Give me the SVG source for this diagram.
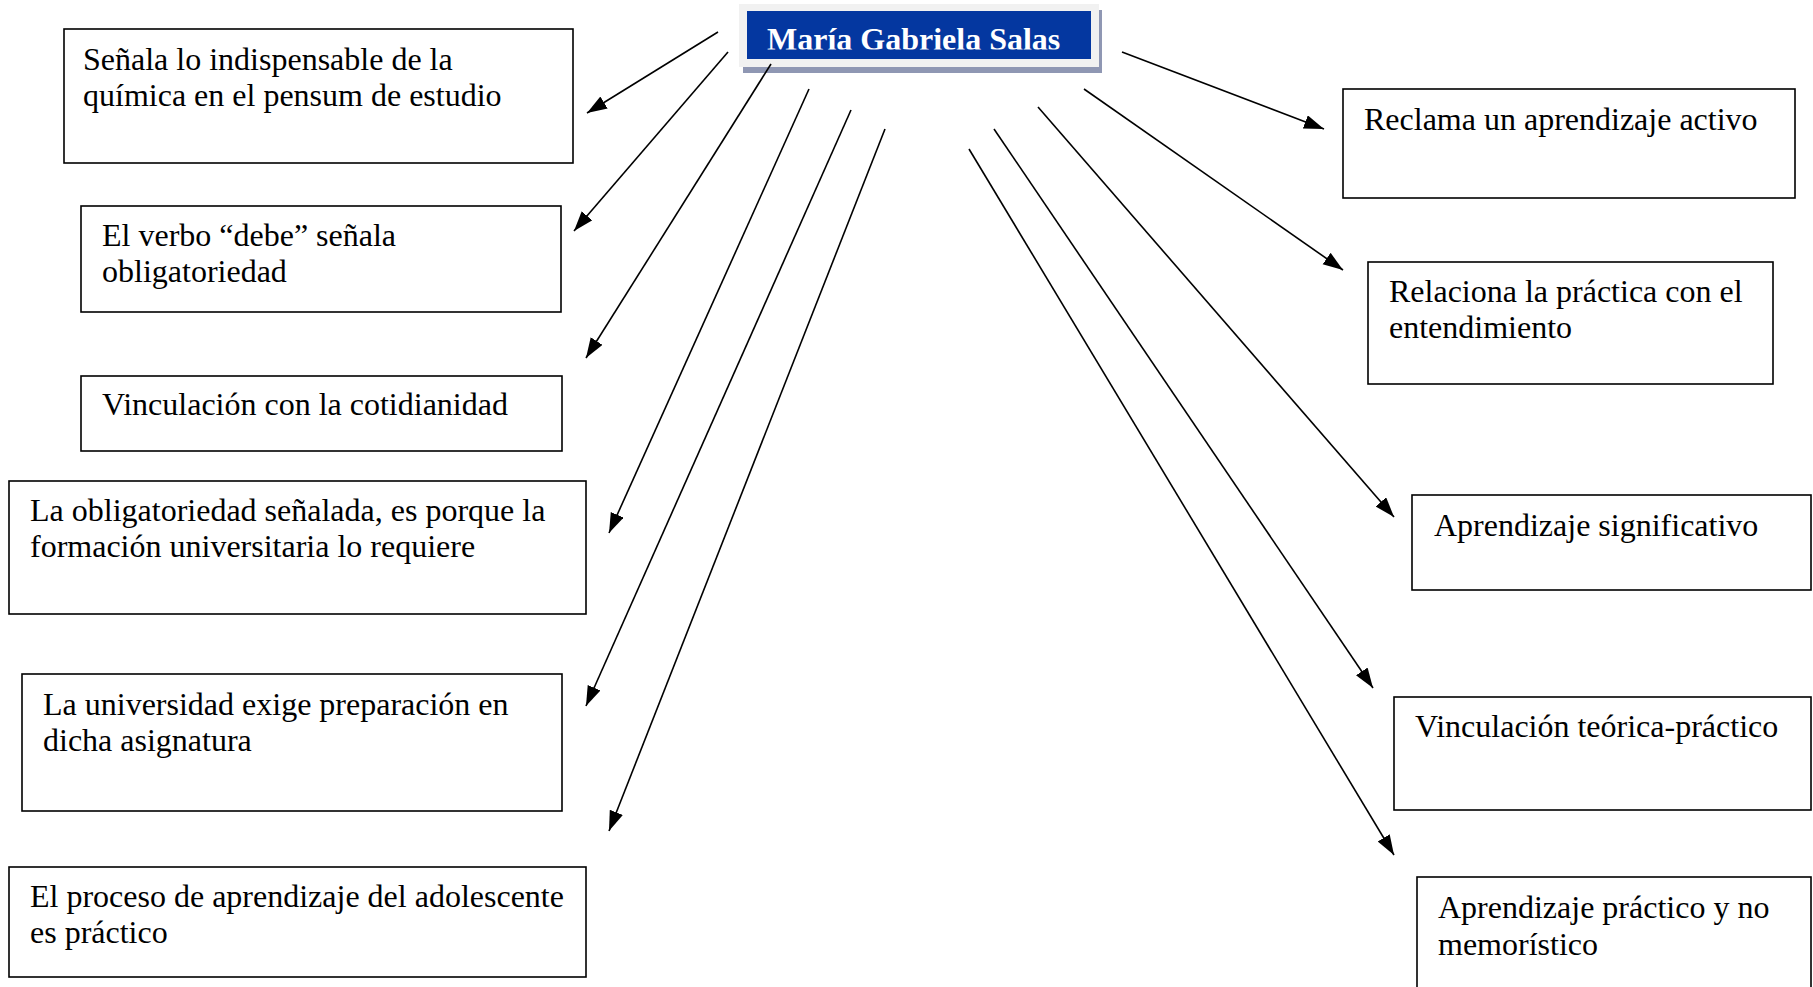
<svg xmlns="http://www.w3.org/2000/svg" width="1813" height="987" viewBox="0 0 1813 987">
  <style>
    .box { fill: #ffffff; stroke: #000000; stroke-width: 1.6; }
    .t { font-family: "Liberation Serif", "Times New Roman", serif; font-size: 32px; fill: #000000; }
    .title { font-family: "Liberation Serif", "Times New Roman", serif; font-size: 32px; font-weight: bold; fill: #ffffff; }
    .conn { stroke: #000000; stroke-width: 1.6; fill: none; marker-end: url(#arrow); }
  </style>
  <defs>
    <marker id="arrow" markerUnits="userSpaceOnUse" markerWidth="22" markerHeight="16" refX="20" refY="7" orient="auto">
      <path d="M0,0 L20,7 L0,14 Z" fill="#000000"/>
    </marker>
    <clipPath id="titleClip">
      <rect x="747" y="11" width="345" height="38.5"/>
    </clipPath>
  </defs>
  <rect x="0" y="0" width="1813" height="987" fill="#ffffff"/>

  <g id="title">
    <rect x="743" y="10" width="359" height="63" fill="#8f97b3"/>
    <rect x="739" y="4" width="360" height="63" fill="#f1f1f1"/>
    <rect x="747" y="11" width="344" height="48" fill="#0437a0"/>
    <text class="title" x="767" y="50" clip-path="url(#titleClip)">María Gabriela Salas</text>
  </g>

  <g id="connectors">
    <line class="conn" x1="718" y1="32" x2="587" y2="113"/>
    <line class="conn" x1="728" y1="52" x2="574" y2="231"/>
    <line class="conn" x1="771" y1="64" x2="586" y2="358"/>
    <line class="conn" x1="809" y1="89" x2="609" y2="533"/>
    <line class="conn" x1="851" y1="110" x2="586" y2="706"/>
    <line class="conn" x1="885" y1="129" x2="609" y2="831"/>
    <line class="conn" x1="1122" y1="52" x2="1324" y2="129"/>
    <line class="conn" x1="1084" y1="89" x2="1343" y2="270"/>
    <line class="conn" x1="1038" y1="107" x2="1394" y2="517"/>
    <line class="conn" x1="994" y1="129" x2="1373" y2="688"/>
    <line class="conn" x1="969" y1="149" x2="1394" y2="855"/>
  </g>

  <g id="n-l1">
    <rect class="box" x="64" y="29" width="509" height="134"/>
    <text class="t" x="83" y="70">Señala lo indispensable de la</text>
    <text class="t" x="83" y="106">química en el pensum de estudio</text>
  </g>
  <g id="n-l2">
    <rect class="box" x="81" y="206" width="480" height="106"/>
    <text class="t" x="102" y="246">El verbo “debe” señala</text>
    <text class="t" x="102" y="282">obligatoriedad</text>
  </g>
  <g id="n-l3">
    <rect class="box" x="81" y="376" width="481" height="75"/>
    <text class="t" x="102" y="415">Vinculación con la cotidianidad</text>
  </g>
  <g id="n-l4">
    <rect class="box" x="9" y="481" width="577" height="133"/>
    <text class="t" x="30" y="521">La obligatoriedad señalada, es porque la</text>
    <text class="t" x="30" y="557">formación universitaria lo requiere</text>
  </g>
  <g id="n-l5">
    <rect class="box" x="22" y="674" width="540" height="137"/>
    <text class="t" x="43" y="715">La universidad exige preparación en</text>
    <text class="t" x="43" y="751">dicha asignatura</text>
  </g>
  <g id="n-l6">
    <rect class="box" x="9" y="867" width="577" height="110"/>
    <text class="t" x="30" y="907">El proceso de aprendizaje del adolescente</text>
    <text class="t" x="30" y="943">es práctico</text>
  </g>

  <g id="n-r1">
    <rect class="box" x="1343" y="89" width="452" height="109"/>
    <text class="t" x="1364" y="130">Reclama un aprendizaje activo</text>
  </g>
  <g id="n-r2">
    <rect class="box" x="1368" y="262" width="405" height="122"/>
    <text class="t" x="1389" y="302">Relaciona la práctica con el</text>
    <text class="t" x="1389" y="338">entendimiento</text>
  </g>
  <g id="n-r3">
    <rect class="box" x="1412" y="495" width="399" height="95"/>
    <text class="t" x="1434" y="536">Aprendizaje significativo</text>
  </g>
  <g id="n-r4">
    <rect class="box" x="1394" y="697" width="417" height="113"/>
    <text class="t" x="1415" y="737">Vinculación teórica-práctico</text>
  </g>
  <g id="n-r5">
    <rect class="box" x="1417" y="877" width="394" height="130"/>
    <text class="t" x="1438" y="918">Aprendizaje práctico y no</text>
    <text class="t" x="1438" y="955">memorístico</text>
  </g>
</svg>
